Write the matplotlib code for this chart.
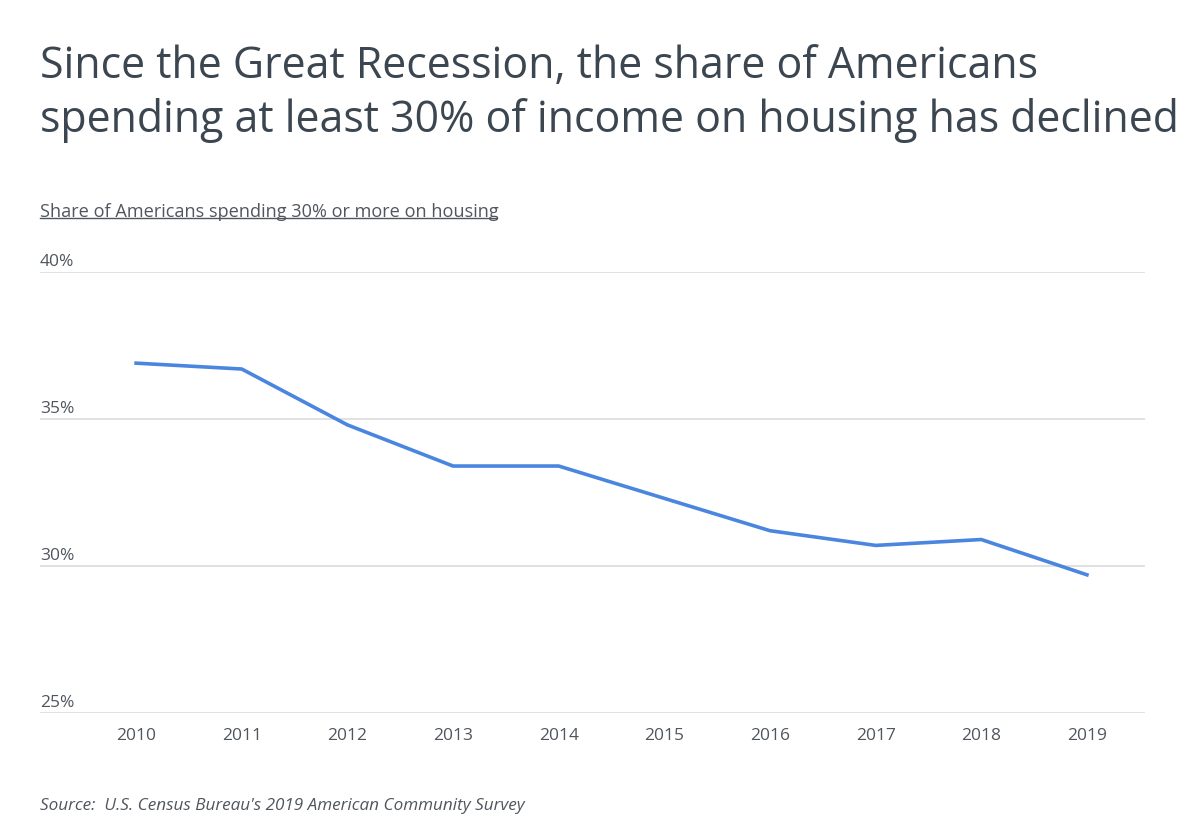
import matplotlib.pyplot as plt
from matplotlib.lines import Line2D

years = [2010, 2011, 2012, 2013, 2014, 2015, 2016, 2017, 2018, 2019]
share_pct = [36.9, 36.7, 34.8, 33.4, 33.4, 32.3, 31.2, 30.7, 30.9, 29.7]
y_ticks = [25, 30, 35, 40]
y_tick_labels = ['25%', '30%', '35%', '40%']

plt.rcParams['font.family'] = ['Open Sans', 'DejaVu Sans']

fig = plt.figure(figsize=(12, 8.38), dpi=100)
ax = fig.add_axes([0.0333, 0.1492, 0.9209, 0.5262])

ax.plot(years, share_pct, color='#4a86e0', linewidth=2.6, solid_joinstyle='round', zorder=3)

ax.set_ylim(25, 40)
ax.set_xlim(2009.09, 2019.55)
ax.set_yticks(y_ticks)
ax.set_xticks(years)
ax.set_xticklabels([str(y) for y in years], fontsize=12.5, color='#50565e')
ax.tick_params(axis='x', length=0, pad=10.5)
ax.tick_params(axis='y', length=0, labelleft=False)
ax.grid(axis='y', color='#dcdcdc', linewidth=1.2)
ax.grid(axis='x', visible=False)
for s in ax.spines.values():
    s.set_visible(False)

# y labels sit just above their gridline at the left edge
for v, lab in zip(y_ticks, y_tick_labels):
    ax.text(2009.09, v + 0.08, lab, fontsize=12.5, color='#50565e', ha='left', va='bottom')

fig.text(0.0333, 0.888, 'Since the Great Recession, the share of Americans\nspending at least 30% of income on housing has declined',
         fontsize=30.9, color='#3c4650', ha='left', va='center', linespacing=1.25)

sub = fig.text(0.0333, 1 - 212 / 838, 'Share of Americans spending 30% or more on housing',
               fontsize=13.1, color='#50565e', ha='left', va='center')

fig.text(0.0333, 1 - 806 / 838, "Source:  U.S. Census Bureau's 2019 American Community Survey",
         fontsize=12.35, color='#50565e', style='italic', ha='left', va='center')

# underline the subtitle
fig.canvas.draw()
bb = sub.get_window_extent().transformed(fig.transFigure.inverted())
fig.add_artist(Line2D([bb.x0, bb.x1 - 0.002], [bb.y0 + 0.003, bb.y0 + 0.003],
                      transform=fig.transFigure, color='#50565e', linewidth=1))

plt.savefig('out.png', dpi=100)
